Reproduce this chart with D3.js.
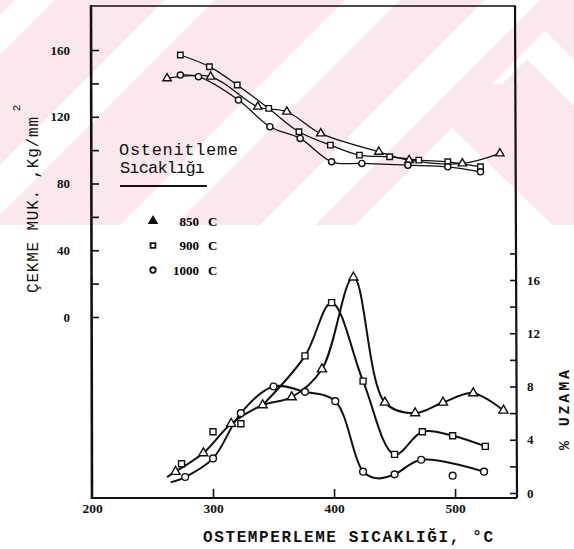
<!DOCTYPE html>
<html>
<head>
<meta charset="utf-8">
<script src="https://cdn.jsdelivr.net/npm/d3@7"></script>
<style>
  body { margin: 0; background: #fff; }
  svg { display: block; }
  .tick text { font-family: "Liberation Serif", serif; font-weight: bold; font-size: 13px; fill: #111; }
  .mono { font-family: "Liberation Mono", monospace; fill: #111; }
</style>
</head>
<body>
<div id="chart"></div>
<script>
// tempering temperature (C) vs tensile strength (kg/mm2) and elongation (%)
// kind strings: m = marker on curve, o = marker off curve, c = curve point only
var strT850 = [262, 298, 337, 361, 389, 437, 462, 506, 537];
var strV850 = [143, 144, 126, 123, 110, 99, 94, 92, 98];
var strT900 = [273, 297, 320, 346, 371, 397, 421, 446, 470, 494, 521];
var strV900 = [157, 150, 139, 125, 111, 103, 97, 96, 94, 93, 90];
var strT1000 = [273, 288, 321, 347, 372, 398, 423, 461, 494, 521];
var strV1000 = [145, 144, 130, 114, 107, 93, 92, 91, 90, 87];

var elT850 = [262, 269, 292, 315, 341, 365, 390, 416, 442, 467, 490, 515, 540];
var elV850 = [1.2, 1.6, 3.0, 5.2, 6.6, 7.2, 9.3, 16.2, 6.8, 6.0, 6.8, 7.5, 6.2];
var elK850 = "cmmmmmmmmmmmm";
var elT900 = [274, 300, 323, 341, 376, 398, 424, 450, 473, 498, 525];
var elV900 = [2.2, 4.6, 5.2, 6.6, 10.3, 14.3, 8.4, 2.9, 4.6, 4.3, 3.5];
var elK900 = "ooocmmmmmmm";
var elT1000 = [265, 277, 300, 323, 350, 376, 401, 424, 436, 450, 472, 498, 524];
var elV1000 = [0.8, 1.2, 2.6, 6.0, 8.0, 7.6, 6.9, 1.6, 1.1, 1.4, 2.5, 1.3, 1.6];
var elK1000 = "cmmmmmmmcmmom";

var tempTicks = [200, 300, 400, 500];
var strTicks = d3.range(0, 161, 20);
var strLabels = [0, 40, 80, 120, 160];
var elTicks = d3.range(0, 19, 2);
var elLabels = [0, 4, 8, 12, 16];

var legendNames = ["850", "900", "1000"];
var legendSymbols = [d3.symbolTriangle, d3.symbolSquare, d3.symbolCircle];

var width = 574, height = 549;
var frame = {l: 91, r: 517, t: 6, b: 498};

var x = d3.scaleLinear().domain([200, 552]).range([92, 518]);
var yS = d3.scaleLinear().domain([0, 160]).range([317, 50]);
var yE = d3.scaleLinear().domain([0, 16]).range([493, 280]);

var svg = d3.select("#chart").append("svg")
    .attr("width", width)
    .attr("height", height);

// pink watermark stripes across the upper part of the scan
var wm = svg.append("g");
svg.append("clipPath").attr("id", "wmclip")
  .append("rect").attr("width", width).attr("height", 225);
wm.append("rect").attr("width", width).attr("height", 225).attr("fill", "#fce8ec");
var bands = [[15, 55], [165, 215], [345, 400], [485, 540]];
var wmWhite = wm.append("g").attr("clip-path", "url(#wmclip)").attr("fill", "#fff");
bands.forEach(function(b) {
    wmWhite.append("polygon")
      .attr("points", [[b[0], 0], [b[1], 0], [b[1] - 240, 240], [b[0] - 240, 240]].join(" "));
});
wmWhite.append("polygon").attr("points", "452,128 345,235 563,235");
wmWhite.append("polygon").attr("points", "492,84 545,31 574,60 574,106 527,59 502,84");

// axes
var axL = svg.append("g").attr("transform", "translate(" + frame.l + ",0)")
    .call(d3.axisLeft(yS).tickValues(strTicks).tickSize(-8).tickPadding(21)
      .tickFormat(function(d) { return strLabels.indexOf(d) >= 0 ? d : ""; }));
var axR = svg.append("g").attr("transform", "translate(" + frame.r + ",0)")
    .call(d3.axisRight(yE).tickValues(elTicks).tickSize(-7).tickPadding(10)
      .tickFormat(function(d) { return elLabels.indexOf(d) >= 0 ? d : ""; }));
var axB = svg.append("g").attr("transform", "translate(0," + frame.b + ")")
    .call(d3.axisBottom(x).tickValues(tempTicks).tickSize(-9).tickPadding(5));
[axL, axR, axB].forEach(function(a) {
    a.select(".domain").remove();
    a.selectAll(".tick line").attr("stroke", "#111").attr("stroke-width", 1.6);
});
axB.selectAll(".tick").filter(function(d) { return d === 200; }).select("line").remove();
axB.selectAll(".tick text").style("font-size", "13.5px");

// frame
var fr = svg.append("g").attr("stroke", "#111").attr("fill", "none");
fr.append("line").attr("x1", frame.l).attr("y1", frame.t - 1).attr("x2", frame.l + 1).attr("y2", frame.b + 1).attr("stroke-width", 2.6);
fr.append("line").attr("x1", frame.l).attr("y1", frame.b).attr("x2", frame.r).attr("y2", frame.b).attr("stroke-width", 2.2);
fr.append("line").attr("x1", frame.l).attr("y1", frame.t).attr("x2", frame.r - 1).attr("y2", frame.t).attr("stroke-width", 1.4);
fr.append("line").attr("x1", frame.r - 2).attr("y1", frame.t).attr("x2", frame.r).attr("y2", frame.b).attr("stroke-width", 2.2);

function pts(T, V, K) {
    return T.map(function(t, i) { return {t: t, v: V[i], k: K ? K[i] : "m"}; });
}

var series = [
  {y: yS, data: pts(strT850, strV850), sym: d3.symbolTriangle, w: 1.3, size: 30},
  {y: yS, data: pts(strT900, strV900), sym: d3.symbolSquare, w: 1.3, size: 30},
  {y: yS, data: pts(strT1000, strV1000), sym: d3.symbolCircle, w: 1.3, size: 30},
  {y: yE, data: pts(elT850, elV850, elK850), sym: d3.symbolTriangle, w: 2, size: 36},
  {y: yE, data: pts(elT900, elV900, elK900), sym: d3.symbolSquare, w: 2, size: 36},
  {y: yE, data: pts(elT1000, elV1000, elK1000), sym: d3.symbolCircle, w: 2, size: 36}
];

series.forEach(function(s) {
    var line = d3.line()
        .x(function(d) { return x(d.t); })
        .y(function(d) { return s.y(d.v); })
        .curve(d3.curveCatmullRom.alpha(0.5));
    svg.append("path")
      .datum(s.data.filter(function(d) { return d.k !== "o"; }))
      .attr("d", line)
      .attr("fill", "none")
      .attr("stroke", "#111")
      .attr("stroke-width", s.w);
});

series.forEach(function(s) {
    svg.selectAll(null)
      .data(s.data.filter(function(d) { return d.k !== "c"; }))
      .enter().append("path")
      .attr("d", d3.symbol().type(s.sym).size(s.size))
      .attr("transform", function(d) { return "translate(" + x(d.t) + "," + s.y(d.v) + ")"; })
      .attr("fill", "#fff")
      .attr("stroke", "#111")
      .attr("stroke-width", 1.4);
});

// legend
svg.append("text").attr("class", "mono").attr("x", 119).attr("y", 155)
    .attr("font-size", 17).attr("textLength", 119).text("Ostenitleme");
svg.append("text").attr("class", "mono").attr("x", 120).attr("y", 173)
    .attr("font-size", 17).attr("textLength", 85).text("Sıcaklığı");
svg.append("line").attr("x1", 120).attr("x2", 207).attr("y1", 186).attr("y2", 186)
    .attr("stroke", "#111").attr("stroke-width", 2);

var leg = svg.selectAll("g.leg").data(legendNames).enter().append("g")
    .attr("class", "leg")
    .attr("transform", function(d, i) { return "translate(0," + (221 + i * 24.5) + ")"; });
leg.append("path")
    .attr("d", function(d, i) { return d3.symbol().type(legendSymbols[i]).size(24)(); })
    .attr("transform", "translate(153,0)")
    .attr("fill", function(d, i) { return i === 0 ? "#111" : "#fff"; })
    .attr("stroke", "#111").attr("stroke-width", 1.8);
leg.append("text").attr("x", 199).attr("y", 4.5).attr("text-anchor", "end")
    .style("font-family", "Liberation Serif").style("font-weight", "bold").style("font-size", "13px")
    .text(function(d) { return d; });
leg.append("text").attr("x", 208).attr("y", 4.5)
    .style("font-family", "Liberation Serif").style("font-weight", "bold").style("font-size", "13px")
    .text("C");

// axis titles
svg.append("text").attr("class", "mono").attr("x", 348).attr("y", 542)
    .attr("text-anchor", "middle").attr("font-size", 16).attr("font-weight", "bold")
    .attr("textLength", 290).text("OSTEMPERLEME SICAKLIĞI, °C");
svg.append("text").attr("class", "mono")
    .attr("transform", "translate(38,205) rotate(-90)")
    .attr("text-anchor", "middle").attr("font-size", 16)
    .attr("textLength", 176).text("ÇEKME MUK. ,Kg/mm");
svg.append("text").attr("class", "mono")
    .attr("transform", "translate(20,108) rotate(-90)")
    .attr("text-anchor", "middle").attr("font-size", 11).text("2");
svg.append("text").attr("class", "mono")
    .attr("transform", "translate(569,410) rotate(-90)")
    .attr("text-anchor", "middle").attr("font-size", 15).attr("font-weight", "bold")
    .attr("textLength", 80).text("% UZAMA");
</script>
</body>
</html>
